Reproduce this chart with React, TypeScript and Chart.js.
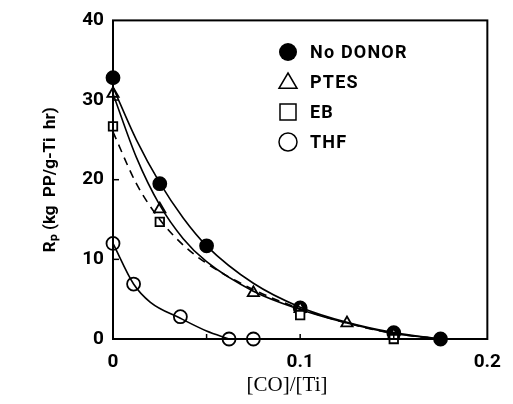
import React, { useEffect, useRef } from "react";
import { Chart, registerables } from "chart.js";
Chart.register(...registerables);

// ---- data ----
const noDonorX = [0, 0.025, 0.05, 0.1, 0.15, 0.175];
const noDonorY = [32.8, 19.5, 11.7, 3.9, 0.8, 0];
const ptesX = [0, 0.025, 0.075, 0.1, 0.125, 0.15];
const ptesY = [30.8, 16.3, 5.8, 3.8, 2.0, 0.5];
const ebX = [0, 0.025, 0.1, 0.15];
const ebY = [26.7, 14.7, 3.0, 0];
const thfX = [0, 0.011, 0.036, 0.062, 0.075];
const thfY = [12.0, 6.9, 2.8, 0, 0];

// fitted curves as drawn in the reference
const noDonorCurveX = [0, 0.0125, 0.025, 0.0375, 0.05, 0.075, 0.1, 0.125, 0.15, 0.175];
const noDonorCurveY = [31.6, 25.0, 19.6, 15.2, 11.7, 7.0, 4.0, 2.1, 0.8, 0];
const ptesCurveX = [0, 0.0125, 0.025, 0.0375, 0.05, 0.075, 0.1, 0.125, 0.15, 0.175];
const ptesCurveY = [30.8, 22.8, 16.8, 12.6, 9.7, 6.0, 3.7, 2.0, 0.7, 0];
const ebCurveX = [0, 0.0125, 0.025, 0.0375, 0.05, 0.075, 0.1, 0.125, 0.15, 0.175];
const ebCurveY = [26.0, 19.5, 15.0, 11.8, 9.5, 6.2, 3.8, 2.0, 0.7, 0];
const thfCurveX = [0, 0.011, 0.02, 0.036, 0.05, 0.062];
const thfCurveY = [12.0, 6.9, 4.6, 2.6, 1.0, 0];

const legendLabels = ["No DONOR", "PTES", "EB", "THF"];
const xLabelValues = [0, 0.1, 0.2];
const yTickValues = [0, 10, 20, 30, 40];
const xTitle = "[CO]/[Ti]";
const yTitle = "Rₚ (kg  PP/g-Ti  hr)";

const BOLD_SANS = 'Roboto, "Liberation Sans", sans-serif';
const SERIF = '"Liberation Serif", "DejaVu Serif", serif';

const pts = (xs: number[], ys: number[]) => xs.map((x, i) => ({ x, y: ys[i] }));

const framePlugin = {
  id: "frame",
  afterDraw(chart: any) {
    const { ctx, chartArea: a, scales } = chart;
    ctx.save();
    ctx.strokeStyle = "#000";
    ctx.lineWidth = 2;
    ctx.strokeRect(a.left, a.top, a.right - a.left, a.bottom - a.top);
    ctx.lineWidth = 1.5;
    // inner tick marks
    scales.x.ticks.forEach((t: any) => {
      const px = scales.x.getPixelForValue(t.value);
      if (px <= a.left + 2 || px >= a.right - 2) return;
      ctx.beginPath();
      ctx.moveTo(px, a.bottom);
      ctx.lineTo(px, a.bottom - 5);
      ctx.stroke();
    });
    scales.y.ticks.forEach((t: any) => {
      const py = scales.y.getPixelForValue(t.value);
      if (py <= a.top + 2 || py >= a.bottom - 2) return;
      ctx.beginPath();
      ctx.moveTo(a.left, py);
      ctx.lineTo(a.left + 6, py);
      ctx.stroke();
    });
    // x axis title (placed as in the reference, slightly left of centre)
    ctx.fillStyle = "#000";
    ctx.font = `21px ${SERIF}`;
    ctx.textAlign = "center";
    ctx.textBaseline = "middle";
    ctx.fillText(xTitle, scales.x.getPixelForValue(0.093), 385);
    ctx.restore();
  },
};

const legendPlugin = {
  id: "innerLegend",
  afterDraw(chart: any) {
    const { ctx } = chart;
    const mx = 288;
    const tx = 310;
    const y0 = 52;
    const dy = 30;
    ctx.save();
    ctx.strokeStyle = "#000";
    ctx.fillStyle = "#000";
    ctx.lineWidth = 1.5;
    ctx.font = `bold 18px ${BOLD_SANS}`;
    try {
      (ctx as any).letterSpacing = "1.2px";
    } catch (e) {}
    ctx.textBaseline = "middle";
    chart.data.datasets
      .filter((d: any) => d.legendIndex !== undefined)
      .sort((p: any, q: any) => p.legendIndex - q.legendIndex)
      .forEach((d: any, i: number) => {
        const y = y0 + i * dy;
        const r = 9;
        ctx.beginPath();
        if (d.pointStyle === "circle") {
          ctx.arc(mx, y, r, 0, Math.PI * 2);
        } else if (d.pointStyle === "triangle") {
          ctx.moveTo(mx, y - r);
          ctx.lineTo(mx + r, y + r * 0.7);
          ctx.lineTo(mx - r, y + r * 0.7);
          ctx.closePath();
        } else if (d.pointStyle === "rect") {
          ctx.rect(mx - r + 1, y - r + 1, 2 * r - 2, 2 * r - 2);
        }
        if (d.pointBackgroundColor === "#000") ctx.fill();
        else ctx.stroke();
        ctx.fillText(d.label, tx, y + 1);
      });
    ctx.restore();
  },
};

export default function App() {
  const ref = useRef<HTMLCanvasElement | null>(null);
  useEffect(() => {
    if (!ref.current) return;
    const marker = (idx: number, data: any[], style: string, filled: boolean) => ({
      label: legendLabels[idx],
      legendIndex: idx,
      data,
      showLine: false,
      pointStyle: style,
      pointRadius: style === "rect" ? 6 : 6.5,
      pointBorderWidth: 1.8,
      pointBorderColor: "#000",
      pointBackgroundColor: filled ? "#000" : "#fff",
      borderColor: "#000",
      clip: false,
    });
    const curve = (data: any[], dashed: boolean) => ({
      label: "",
      data,
      showLine: true,
      pointRadius: 0,
      borderColor: "#000",
      borderWidth: 1.6,
      borderDash: dashed ? [8, 6] : [],
      cubicInterpolationMode: "monotone",
      fill: false,
    });
    const chart = new Chart(ref.current, {
      type: "scatter",
      data: {
        datasets: [
          curve(pts(noDonorCurveX, noDonorCurveY), false),
          curve(pts(ptesCurveX, ptesCurveY), false),
          curve(pts(ebCurveX, ebCurveY), true),
          curve(pts(thfCurveX, thfCurveY), false),
          marker(3, pts(thfX, thfY), "circle", false),
          marker(2, pts(ebX, ebY), "rect", false),
          marker(1, pts(ptesX, ptesY), "triangle", false),
          marker(0, pts(noDonorX, noDonorY), "circle", true),
        ] as any,
      },
      options: {
        animation: false,
        responsive: false,
        maintainAspectRatio: false,
        layout: { padding: { top: 14, right: 12, left: 0, bottom: 0 } },
        plugins: { legend: { display: false }, tooltip: { enabled: false } },
        scales: {
          x: {
            type: "linear",
            min: 0,
            max: 0.2,
            border: { display: false },
            grid: { display: false, drawTicks: false },
            ticks: {
              stepSize: 0.05,
              padding: 12,
              color: "#000",
              font: { family: BOLD_SANS, size: 19, weight: "bold" },
              callback: (v: any) => {
                const r = Math.round(Number(v) * 100) / 100;
                return xLabelValues.includes(r) ? String(r) : "";
              },
            },
            title: { display: false },
            afterFit: (s: any) => {
              s.height = 65;
            },
          },
          y: {
            type: "linear",
            min: 0,
            max: 40,
            border: { display: false },
            grid: { display: false, drawTicks: false },
            afterBuildTicks: (s: any) => {
              s.ticks = yTickValues.map((v) => ({ value: v }));
            },
            ticks: {
              padding: 9,
              color: "#000",
              font: { family: BOLD_SANS, size: 19, weight: "bold" },
            },
            title: {
              display: true,
              text: yTitle,
              color: "#000",
              font: { family: BOLD_SANS, size: 17, weight: "bold" },
              padding: { top: 41, bottom: 0 },
            },
            afterFit: (s: any) => {
              s.width = 113;
            },
          },
        },
      },
      plugins: [framePlugin, legendPlugin],
    } as any);
    return () => chart.destroy();
  }, []);
  return (
    <div style={{ position: "absolute", left: 0, top: 0, width: 513, height: 404, background: "#fff" }}>
      <canvas ref={ref} width={513} height={404} style={{ width: 513, height: 404 }} />
    </div>
  );
}
